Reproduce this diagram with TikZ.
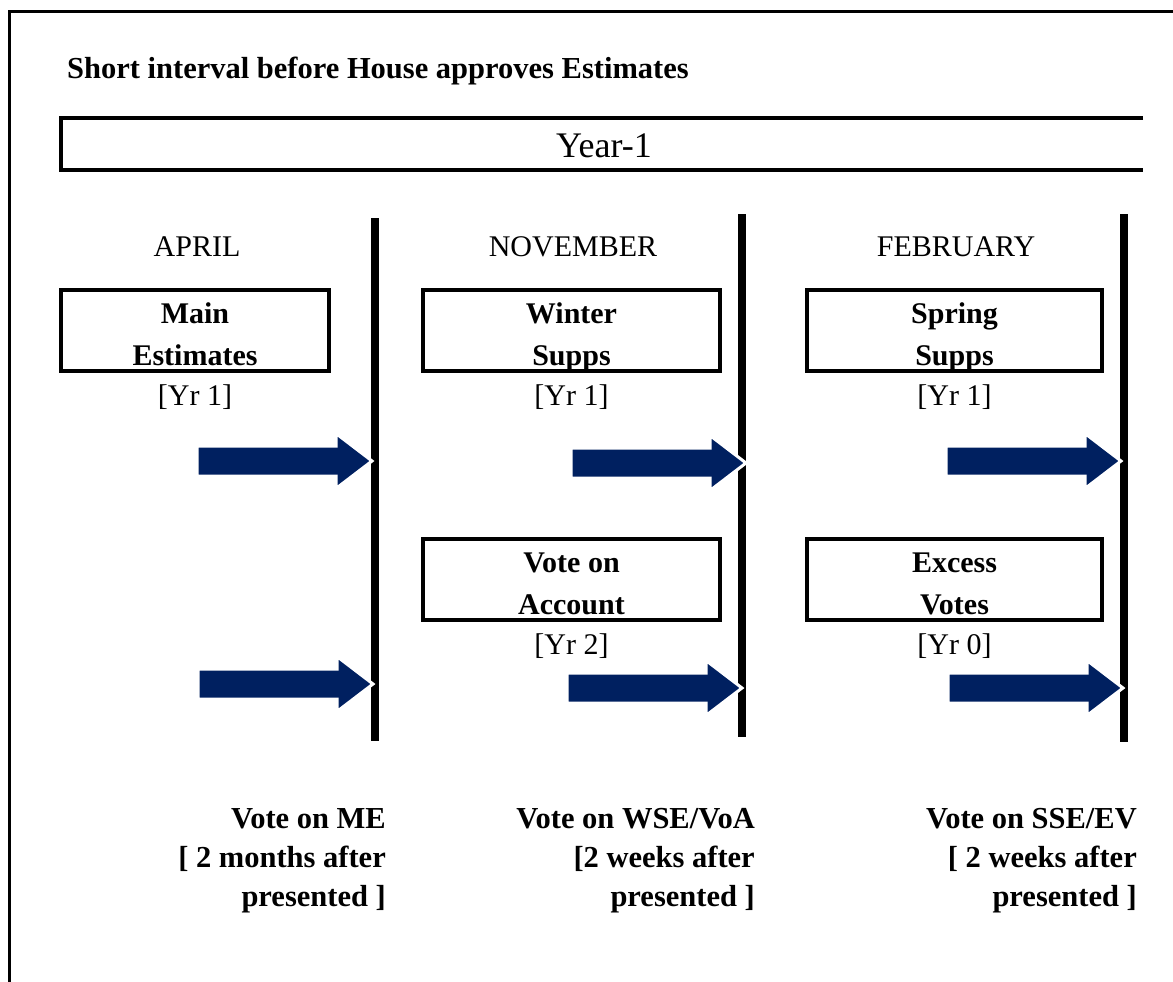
\documentclass[tikz,border=0pt]{standalone}
\usepackage{fontspec}
\setmainfont{Liberation Serif}
\usetikzlibrary{positioning}
\definecolor{navy}{RGB}{0,32,96}

\begin{document}
\begin{tikzpicture}[x=1pt,y=-1pt,
  every node/.style={inner sep=0pt,font=\fontsize{30}{41}\selectfont},
  est/.style={draw,line width=3.5pt,minimum height=81pt},
  esttxt/.style={align=center,font=\bfseries\fontsize{30}{42}\selectfont,
    execute at end node=\vphantom{p}},
  vote/.style={anchor=north east,align=right,
    font=\bfseries\fontsize{30.5}{39}\selectfont}]

\def\s{15}
\def\H{27.5}
\def\h{36}
\def\L{175}

\useasboundingbox (0,0) rectangle (1173,982);

\draw[line width=3pt] (9,982) -- (9,12) -- (1173,12);

\node[anchor=base west,font=\bfseries\fontsize{30.5}{36}\selectfont] (title) at (67,79)
	{Short interval before House approves Estimates};

\draw[line width=4pt] (1143,118) -- (61,118) -- (61,170) -- (1143,170);
\node[font=\fontsize{36}{40}\selectfont] (year) at (604,146) {Year-1};

\node (apr) at (197,247) {APRIL};
\node (nov) at (573,247) {NOVEMBER};
\node (feb) at (956,247) {FEBRUARY};

\draw[line width=8pt] (375,218) -- (375,741);
\draw[line width=8pt] (742,214) -- (742,737);
\draw[line width=8pt] (1124,214) -- (1124,742);

\node[est,minimum width=268pt] (me) at (195,330.5) {};
\node[esttxt] (metxt) at ([yshift=-7pt]me.center) {Main\\Estimates};
\node[below=12pt of me] (yrme) {[Yr 1]};

\node[est,minimum width=297pt] (ws) at (571.5,330.5) {};
\node[esttxt] (wstxt) at ([yshift=-7pt]ws.center) {Winter\\Supps};
\node[below=12pt of ws] (yrws) {[Yr 1]};

\node[est,minimum width=295pt] (ss) at (954.5,330.5) {};
\node[esttxt] (sstxt) at ([yshift=-7pt]ss.center) {Spring\\Supps};
\node[below=12pt of ss] (yrss) {[Yr 1]};

\node[est,minimum width=297pt] (voa) at (571.5,579.5) {};
\node[esttxt] (voatxt) at ([yshift=-7pt]voa.center) {Vote on\\Account};
\node[below=12pt of voa] (yrvoa) {[Yr 2]};

\node[est,minimum width=295pt] (ev) at (954.5,579.5) {};
\node[esttxt] (evtxt) at ([yshift=-7pt]ev.center) {Excess\\Votes};
\node[below=12pt of ev] (yrev) {[Yr 0]};

\begin{scope}[shift={(372,461)}]
\fill[navy,draw=white,line width=3pt] (-\L,-\s) -- (-\h,-\s) -- (-\h,-\H) -- (0,0)
	-- (-\h,\H) -- (-\h,\s) -- (-\L,\s) -- cycle;
\end{scope}

\begin{scope}[shift={(746,463)}]
\fill[navy,draw=white,line width=3pt] (-\L,-\s) -- (-\h,-\s) -- (-\h,-\H) -- (0,0)
	-- (-\h,\H) -- (-\h,\s) -- (-\L,\s) -- cycle;
\end{scope}

\begin{scope}[shift={(1121,461)}]
\fill[navy,draw=white,line width=3pt] (-\L,-\s) -- (-\h,-\s) -- (-\h,-\H) -- (0,0)
	-- (-\h,\H) -- (-\h,\s) -- (-\L,\s) -- cycle;
\end{scope}

\begin{scope}[shift={(373,684)}]
\fill[navy,draw=white,line width=3pt] (-\L,-\s) -- (-\h,-\s) -- (-\h,-\H) -- (0,0)
	-- (-\h,\H) -- (-\h,\s) -- (-\L,\s) -- cycle;
\end{scope}

\begin{scope}[shift={(742,688)}]
\fill[navy,draw=white,line width=3pt] (-\L,-\s) -- (-\h,-\s) -- (-\h,-\H) -- (0,0)
	-- (-\h,\H) -- (-\h,\s) -- (-\L,\s) -- cycle;
\end{scope}

\begin{scope}[shift={(1123,688)}]
\fill[navy,draw=white,line width=3pt] (-\L,-\s) -- (-\h,-\s) -- (-\h,-\H) -- (0,0)
	-- (-\h,\H) -- (-\h,\s) -- (-\L,\s) -- cycle;
\end{scope}

\node[vote] (votme) at (386,808) {Vote on ME\\{[} 2 months after\\presented ]};
\node[vote] (votws) at (755,808) {Vote on WSE/VoA\\{[}2 weeks after\\presented ]};
\node[vote] (votss) at (1137,808) {Vote on SSE/EV\\{[} 2 weeks after\\presented ]};

\end{tikzpicture}
\end{document}
